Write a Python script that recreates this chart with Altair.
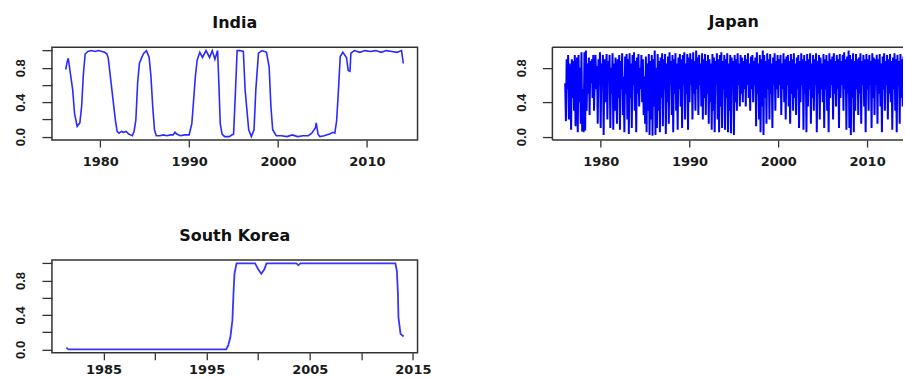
import altair as alt
import pandas as pd

# ---------------- data ----------------
india_year = [1976.1, 1976.3, 1976.4, 1976.6, 1976.9, 1977.1, 1977.4, 1977.7, 1977.9, 1978.1,
              1978.3, 1978.6, 1979.0, 1979.4, 1979.8, 1980.2, 1980.5, 1980.75, 1980.9, 1981.1,
              1981.4, 1981.7, 1981.9, 1982.1, 1982.4, 1982.6, 1982.9, 1983.2, 1983.4, 1983.6,
              1983.8, 1984.0, 1984.2, 1984.4, 1984.7, 1984.9, 1985.2, 1985.5, 1985.7, 1985.9,
              1986.1, 1986.3, 1986.7, 1987.1, 1987.5, 1987.9, 1988.2, 1988.4, 1988.6, 1989.0,
              1989.5, 1990.0, 1990.3, 1990.5, 1990.7, 1990.9, 1991.2, 1991.5, 1991.9, 1992.3,
              1992.6, 1992.9, 1993.2, 1993.35, 1993.5, 1993.7, 1994.0, 1994.5, 1995.0, 1995.2,
              1995.4, 1995.7, 1996.1, 1996.3, 1996.7, 1997.0, 1997.3, 1997.5, 1997.8, 1998.2,
              1998.7, 1999.0, 1999.2, 1999.4, 1999.8, 2000.4, 2001.0, 2001.6, 2002.2, 2002.8,
              2003.4, 2003.8, 2004.2, 2004.3, 2004.5, 2004.7, 2005.2, 2005.8, 2006.2, 2006.4,
              2006.6, 2006.8, 2007.0, 2007.3, 2007.7, 2007.9, 2008.1, 2008.2, 2008.6, 2009.2,
              2009.8, 2010.4, 2011.0, 2011.6, 2012.2, 2012.8, 2013.4, 2013.9, 2014.1]
india_value = [0.78, 0.88, 0.91, 0.76, 0.54, 0.27, 0.12, 0.16, 0.35, 0.73,
               0.96, 0.99, 1.0, 0.99, 1.0, 0.99, 0.98, 0.96, 0.91, 0.73,
               0.46, 0.19, 0.06, 0.04, 0.06, 0.05, 0.06, 0.03, 0.02, 0.01,
               0.06, 0.19, 0.62, 0.85, 0.93, 0.97, 1.0, 0.92, 0.70, 0.35,
               0.08, 0.01, 0.01, 0.02, 0.01, 0.02, 0.02, 0.05, 0.03, 0.01,
               0.02, 0.02, 0.15, 0.42, 0.70, 0.89, 0.98, 0.92, 1.0, 0.92,
               1.0, 0.90, 1.0, 0.60, 0.15, 0.03, 0.0, 0.0, 0.03, 0.5,
               1.0, 1.0, 0.99, 0.54, 0.08, 0.0, 0.08, 0.54, 0.97, 1.0,
               0.98, 0.81, 0.35, 0.08, 0.01, 0.01, 0.0, 0.02, 0.0, 0.01,
               0.01, 0.04, 0.10, 0.16, 0.03, 0.0, 0.01, 0.03, 0.05, 0.04,
               0.19, 0.54, 0.93, 0.98, 0.92, 0.77, 0.76, 0.97, 1.0, 0.98,
               1.0, 0.99, 1.0, 0.98, 1.0, 0.99, 0.98, 1.0, 0.85]

# Japan: monthly values starting January 1976
japan_start = 1976
japan_value = [
    0.62, 0.18, 0.90, 0.55, 0.95, 0.20, 0.85, 0.60, 0.08, 0.90, 0.45, 0.88,  # 1976
    0.30, 0.95, 0.12, 0.70, 0.92, 0.05, 0.95, 0.40, 0.80, 0.15, 0.98, 0.06,  # 1977
    0.55, 0.05, 0.98, 0.07, 1.00, 0.30, 0.85, 0.50, 0.92, 0.25, 0.88, 0.62,  # 1978
    0.90, 0.45, 0.95, 0.30, 0.70, 0.95, 0.55, 0.82, 0.15, 0.90, 0.60, 0.98,  # 1979
    0.10, 0.85, 0.60, 0.95, 0.02, 0.90, 0.40, 0.75, 0.96, 0.20, 0.88, 0.65,  # 1980
    0.95, 0.10, 0.80, 0.50, 0.97, 0.08, 0.85, 0.30, 0.92, 0.60, 0.15, 0.90,  # 1981
    0.45, 0.95, 0.08, 0.88, 0.55, 0.97, 0.25, 0.70, 0.05, 0.93, 0.50, 0.96,  # 1982
    0.20, 0.90, 0.03, 0.97, 0.45, 0.85, 0.10, 0.95, 0.60, 0.98, 0.30, 0.88,  # 1983
    0.05, 0.92, 0.50, 0.96, 0.35, 0.80, 0.55, 0.95, 0.40, 0.90, 0.25, 0.70,  # 1984
    0.15, 0.93, 0.05, 0.85, 0.30, 0.96, 0.02, 0.88, 0.20, 0.95, 0.01, 0.90,  # 1985
    0.35, 1.00, 0.02, 0.80, 0.10, 0.96, 0.30, 0.88, 0.05, 0.92, 0.45, 0.97,  # 1986
    0.12, 0.90, 0.55, 0.96, 0.03, 0.85, 0.40, 0.93, 0.15, 0.98, 0.60, 0.88,  # 1987
    0.25, 0.95, 0.05, 0.90, 0.50, 0.97, 0.30, 0.85, 0.08, 0.92, 0.55, 0.96,  # 1988
    0.35, 0.90, 0.10, 0.95, 0.60, 0.98, 0.20, 0.85, 0.50, 0.96, 0.08, 0.92,  # 1989
    0.40, 0.97, 0.60, 0.90, 0.20, 0.98, 0.50, 0.88, 0.30, 1.00, 0.55, 0.92,  # 1990
    0.25, 0.95, 0.60, 0.85, 0.35, 0.97, 0.20, 0.90, 0.45, 0.96, 0.25, 0.88,  # 1991
    0.50, 0.95, 0.15, 0.90, 0.40, 0.85, 0.08, 0.96, 0.30, 0.92, 0.05, 0.88,  # 1992
    0.60, 0.97, 0.20, 0.90, 0.05, 0.95, 0.35, 0.98, 0.10, 0.88, 0.55, 0.95,  # 1993
    0.08, 0.90, 0.45, 0.97, 0.05, 0.85, 0.30, 0.95, 0.04, 0.92, 0.60, 0.88,  # 1994
    0.02, 0.95, 0.40, 0.90, 0.30, 0.97, 0.60, 0.85, 0.35, 0.95, 0.50, 0.92,  # 1995
    0.40, 0.88, 0.55, 0.95, 0.35, 0.90, 0.60, 0.97, 0.45, 0.85, 0.30, 0.93,  # 1996
    0.55, 0.95, 0.40, 0.88, 0.60, 0.92, 0.12, 0.98, 0.50, 0.85, 0.20, 0.95,  # 1997
    0.05, 0.90, 0.35, 1.00, 0.02, 0.95, 0.45, 0.88, 0.15, 0.97, 0.55, 0.90,  # 1998
    0.20, 0.96, 0.50, 0.85, 0.10, 0.92, 0.60, 0.97, 0.30, 0.88, 0.55, 0.95,  # 1999
    0.45, 0.90, 0.60, 0.95, 0.25, 0.85, 0.55, 0.97, 0.40, 0.90, 0.20, 0.93,  # 2000
    0.60, 0.95, 0.35, 0.88, 0.15, 0.96, 0.50, 0.90, 0.30, 0.97, 0.45, 0.85,  # 2001
    0.25, 0.92, 0.55, 0.95, 0.10, 0.88, 0.40, 0.97, 0.60, 0.90, 0.08, 0.95,  # 2002
    0.50, 0.88, 0.05, 0.96, 0.35, 0.90, 0.55, 0.97, 0.15, 0.85, 0.45, 0.95,  # 2003
    0.30, 0.90, 0.60, 0.97, 0.05, 0.88, 0.50, 0.95, 0.20, 0.92, 0.55, 0.85,  # 2004
    0.40, 0.96, 0.10, 0.90, 0.55, 0.95, 0.30, 0.88, 0.05, 0.97, 0.45, 0.90,  # 2005
    0.60, 0.93, 0.20, 0.97, 0.50, 0.88, 0.35, 0.95, 0.55, 0.90, 0.10, 0.96,  # 2006
    0.45, 0.88, 0.60, 0.95, 0.30, 0.98, 0.55, 0.90, 0.08, 0.93, 0.50, 1.00,  # 2007
    0.10, 0.95, 0.02, 0.90, 0.45, 0.97, 0.05, 0.88, 0.30, 0.96, 0.55, 0.90,  # 2008
    0.25, 0.92, 0.50, 0.97, 0.15, 0.88, 0.60, 0.95, 0.35, 0.90, 0.05, 0.96,  # 2009
    0.55, 0.90, 0.30, 0.95, 0.60, 0.88, 0.10, 0.97, 0.45, 0.92, 0.25, 0.90,  # 2010
    0.60, 0.95, 0.15, 0.90, 0.50, 0.96, 0.35, 0.85, 0.05, 0.93, 0.55, 0.97,  # 2011
    0.30, 0.88, 0.60, 0.95, 0.20, 0.90, 0.50, 0.96, 0.40, 0.88, 0.08, 0.92,  # 2012
    0.55, 0.97, 0.30, 0.90, 0.05, 0.95, 0.60, 0.88, 0.15, 0.96, 0.45, 0.90,  # 2013
    0.35, 0.93, 0.60,                                                        # 2014
]

korea_year = [1981.4, 1981.6, 1985.0, 1990.0, 1996.9, 1997.1, 1997.3, 1997.5, 1997.6, 1997.7,
              1997.9, 1999.7, 2000.0, 2000.3, 2000.6, 2000.8, 2003.7, 2003.9, 2004.1, 2013.3,
              2013.45, 2013.55, 2013.6, 2013.8, 2014.1]
korea_value = [0.02, 0.0, 0.0, 0.0, 0.0, 0.05, 0.14, 0.34, 0.64, 0.88,
               1.0, 1.0, 0.93, 0.88, 0.93, 1.0, 1.0, 0.98, 1.0, 1.0,
               0.91, 0.64, 0.37, 0.18, 0.15]

titles = ["India", "Japan", "South Korea"]
decade_ticks = [1980, 1990, 2000, 2010]
korea_ticks = [1985, 1990, 1995, 2000, 2005, 2010, 2015]
y_ticks = [0.0, 0.2, 0.4, 0.6, 0.8, 1.0]
y_domain = [-0.04, 1.04]

# ---------------- frames ----------------
india_df = pd.DataFrame({"t": india_year, "v": india_value})
japan_df = pd.DataFrame({"t": [japan_start + i / 12 for i in range(len(japan_value))],
                         "v": japan_value})
korea_df = pd.DataFrame({"t": korea_year, "v": korea_value})

H = 93
TXT = "#1a1a1a"
FRAME = "#333333"


def axes(xdom, xticks, label_expr, xpad=8):
    xaxis = alt.Axis(values=xticks, format="d", labelExpr=label_expr, title=None,
                     grid=False, domain=False, tickSize=7, tickWidth=1.3, tickColor=FRAME,
                     labelFont="DejaVu Sans", labelFontSize=13, labelFontWeight="bold",
                     labelColor=TXT, labelPadding=xpad, labelFlush=False, labelOverlap=False)
    yaxis = alt.Axis(values=y_ticks, format=".1f",
                     labelExpr="indexof(['0.0','0.4','0.8'], datum.label) >= 0 ? datum.label : ''",
                     title=None, grid=False, domain=False, tickSize=10, tickWidth=1.3,
                     tickColor=FRAME, labelAngle=270, labelAlign="center",
                     labelBaseline="middle", labelFont="Liberation Sans", labelFontSize=13,
                     labelFontWeight="bold", labelColor=TXT, labelPadding=21,
                     labelFlush=False, labelOverlap=False)
    x = alt.X("t:Q", scale=alt.Scale(domain=xdom, nice=False, zero=False), axis=xaxis)
    y = alt.Y("v:Q", scale=alt.Scale(domain=y_domain, nice=False, zero=False), axis=yaxis)
    return x, y


def title_params(text, dx=0):
    return alt.TitleParams(text, font="DejaVu Sans", fontSize=16, fontWeight="bold",
                           color="#111", offset=16, anchor="middle", dx=dx)


def panel(df, title, xdom, xticks, label_expr, color, width, sw, xpad=8):
    x, y = axes(xdom, xticks, label_expr, xpad)
    return alt.Chart(df).mark_line(color=color, strokeWidth=sw, clip=True).encode(
        x=x, y=y).properties(width=width, height=H, title=title_params(title))


india_dom = [1974.56, 2015.7]
india = panel(india_df, titles[0], india_dom, decade_ticks, "datum.label",
              "#2a2aff", 366, 1.6)

# Japan panel is cut off by the right edge of the picture: open frame on the right
japan_dom = [1974.56, 2014.04]
jx, jy = axes(japan_dom, decade_ticks, "datum.label")
japan_line = alt.Chart(japan_df).mark_line(color="#0000ff", strokeWidth=2.0, clip=True).encode(
    x=jx, y=jy)
frame_h = alt.Chart(pd.DataFrame({"v": [y_domain[0], y_domain[1]]})).mark_rule(
    color=FRAME, strokeWidth=1.5).encode(y="v:Q")
frame_v = alt.Chart(pd.DataFrame({"t": [japan_dom[0]]})).mark_rule(
    color=FRAME, strokeWidth=1.5).encode(x="t:Q")
japan = alt.layer(japan_line, frame_h, frame_v).properties(
    width=351, height=H, title=title_params(titles[1], dx=6),
    view=alt.ViewBackground(stroke="transparent"))

korea = panel(korea_df, titles[2], [1980.0, 2015.45], korea_ticks,
              "datum.value % 10 == 5 ? datum.label : ''", "#3535ff", 366, 1.8, xpad=4)

chart = alt.concat(
    india, japan, korea, columns=2, spacing={"row": 120, "column": 135}, bounds="flush",
).properties(
    padding={"left": 14, "top": 13, "right": 0, "bottom": 0}
).configure_view(stroke=FRAME, strokeWidth=1.5)

chart.save("out.html", embed_options={"renderer": "svg", "actions": False})
